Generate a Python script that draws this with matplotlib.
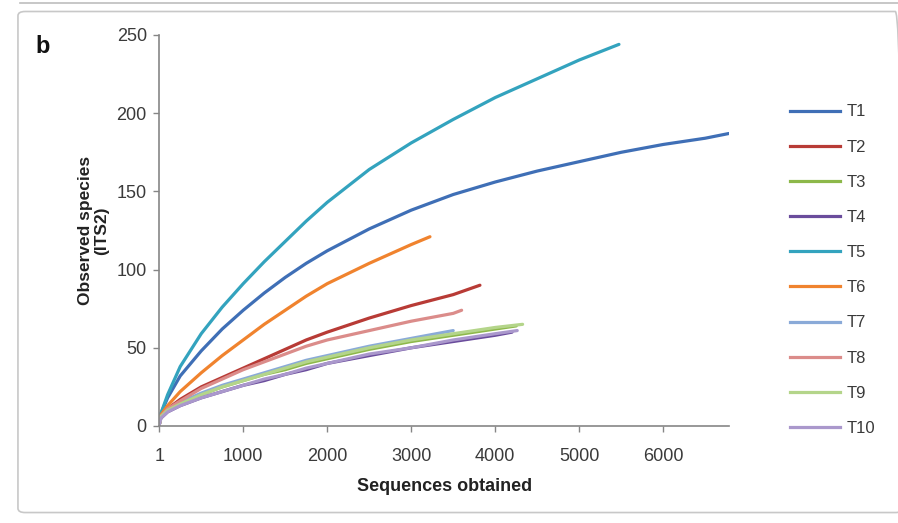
import matplotlib.pyplot as plt
from matplotlib.patches import FancyBboxPatch
from matplotlib.lines import Line2D

# Rarefaction data (sequences vs observed species)
names = ['T1', 'T2', 'T3', 'T4', 'T5', 'T6', 'T7', 'T8', 'T9', 'T10']
colors = ['#3F6FB6', '#B83B36', '#8DB84A', '#6A4C9C', '#33A3BE',
          '#F0832E', '#8AAAD8', '#DB8C8A', '#B4D58A', '#AA98CC']

# common sampling depths; each sample stops at its own total
depths = [1, 20, 100, 250, 500, 750, 1000, 1250, 1500, 1750, 2000, 2500,
          3000, 3500, 4000, 4500, 5000, 5500, 6000, 6500]
last_depth = {'T1': 6780, 'T2': 3818, 'T3': 4250, 'T4': 4200, 'T5': 5473,
              'T6': 3223, 'T7': 3500, 'T8': 3600, 'T9': 4326, 'T10': 4262}

species = {
    'T1': [1, 8, 18, 32, 48, 62, 74, 85, 95, 104, 112, 126, 138, 148, 156, 163, 169, 175, 180, 184, 187],
    'T2': [1, 6, 11, 17, 25, 31, 37, 43, 49, 55, 60, 69, 77, 84, 90],
    'T3': [1, 6, 10, 14, 20, 25, 29, 33, 36, 40, 43, 49, 54, 58, 62, 64],
    'T4': [1, 5, 9, 13, 18, 22, 26, 29, 33, 36, 40, 45, 50, 54, 58, 60],
    'T5': [1, 8, 20, 38, 59, 76, 91, 105, 118, 131, 143, 164, 181, 196, 210, 222, 234, 244],
    'T6': [1, 7, 13, 22, 34, 45, 55, 65, 74, 83, 91, 104, 116, 121],
    'T7': [1, 6, 10, 15, 21, 26, 30, 34, 38, 42, 45, 51, 56, 61],
    'T8': [1, 6, 11, 16, 24, 30, 36, 41, 46, 51, 55, 61, 67, 72, 74],
    'T9': [1, 6, 10, 14, 20, 25, 29, 33, 37, 41, 44, 50, 55, 59, 63, 65],
    'T10': [1, 5, 9, 13, 18, 22, 26, 30, 33, 37, 40, 46, 50, 55, 59, 61],
}

x_ticks = [1, 1000, 2000, 3000, 4000, 5000, 6000]
y_ticks = [0, 50, 100, 150, 200, 250]

plt.rcParams['font.family'] = ['Liberation Sans', 'DejaVu Sans']

fig = plt.figure(figsize=(8.98, 5.23), dpi=100)
ax = fig.add_axes([0.1774, 0.1855, 0.6344, 0.7476])

for name, col in zip(names, colors):
    ys = species[name]
    xs = [d for d in depths if d < last_depth[name]][:len(ys) - 1] + [last_depth[name]]
    ax.plot(xs, ys, color=col, lw=2.3, label=name,
            solid_capstyle='round', solid_joinstyle='round')

ax.set_xlim(1, 6783)
ax.set_ylim(0, 250)
ax.set_xticks(x_ticks)
ax.set_yticks(y_ticks)
ax.tick_params(colors='#868686', labelcolor='#3a3a3a', labelsize=13,
               length=4, width=1, direction='out')
ax.tick_params(axis='x', pad=12)
ax.tick_params(axis='y', pad=5)
for s in ['top', 'right']:
    ax.spines[s].set_visible(False)
for s in ['left', 'bottom']:
    ax.spines[s].set_color('#868686')
    ax.spines[s].set_linewidth(1.2)

ax.set_xlabel('Sequences obtained', fontsize=13, fontweight='bold',
              color='#222222', labelpad=9)
ax.set_ylabel('Observed species\n(ITS2)', fontsize=12.5, fontweight='bold',
              color='#222222', labelpad=5, linespacing=1.1)

# legend on the right
handles = [Line2D([0], [0], color=c, lw=2.3) for c in colors]
fig.legend(handles, names, loc='upper left', bbox_to_anchor=(0.8625, 0.829),
           frameon=False, fontsize=12, handlelength=3.05, handletextpad=0.36,
           labelspacing=1.21, labelcolor='#3a3a3a')

fig.text(0.04, 0.899, 'b', fontsize=17, fontweight='bold', color='#111111')

# outer frame like the reference
fig.add_artist(Line2D([0.022, 1.0], [0.994, 0.994], color='#bdbdbd', lw=1.2))
box = FancyBboxPatch((0.02, 0.02), 0.985, 0.958,
                     boxstyle='round,pad=0,rounding_size=0.008',
                     transform=fig.transFigure, fill=False,
                     edgecolor='#c8c8c8', lw=1.2)
fig.add_artist(box)

fig.savefig('out.png', dpi=100)
